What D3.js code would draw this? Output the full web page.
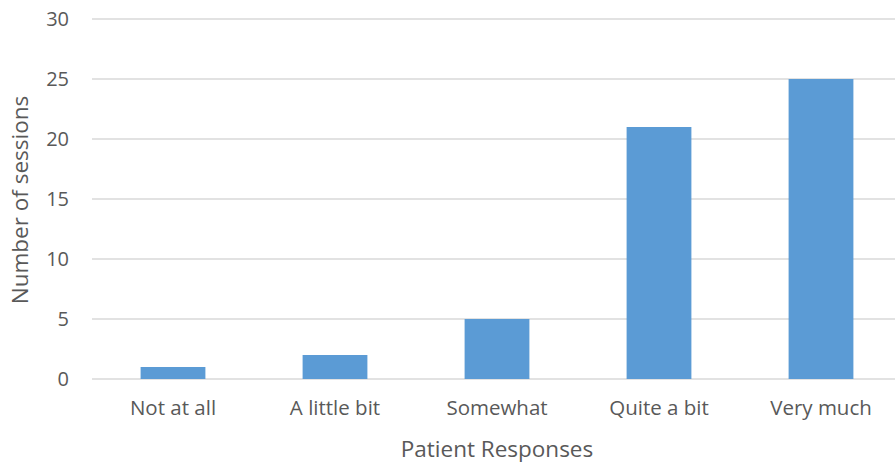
<!DOCTYPE html>
<html><head><meta charset="utf-8">
<script src="https://cdn.jsdelivr.net/npm/d3@7"></script>
<style>body{margin:0;background:#fff;} svg{display:block;font-family:"Open Sans",sans-serif;}</style>
</head><body><svg id="c" width="895" height="466"></svg>
<script>
const categories = ["Not at all","A little bit","Somewhat","Quite a bit","Very much"];
const values = [1,2,5,21,25];
const yTicks = [0,5,10,15,20,25,30];
const xTitle = "Patient Responses";
const yTitle = "Number of sessions";

const svg = d3.select("#c");
const x = d3.scaleBand().domain(categories).range([92,902]).paddingInner(0.6).paddingOuter(0.3);
const y = d3.scaleLinear().domain([0,30]).range([379,19]);
const txt = "#595959";

svg.append("g").selectAll("line").data(yTicks).join("line")
  .attr("x1",92).attr("x2",895).attr("y1",d=>y(d)).attr("y2",d=>y(d))
  .attr("stroke","#d9d9d9").attr("stroke-width",1.3);

const yAxis = svg.append("g").attr("transform","translate(92,0)")
  .call(d3.axisLeft(y).tickValues(yTicks).tickSize(0).tickPadding(23));
yAxis.select(".domain").remove();
yAxis.selectAll("text").attr("fill",txt).style("font-size","20px").style("font-family","Open Sans");

svg.append("g").selectAll("rect").data(values).join("rect")
  .attr("x",(d,i)=>x(categories[i])).attr("width",x.bandwidth())
  .attr("y",d=>y(d)).attr("height",d=>y(0)-y(d)).attr("fill","#5b9bd5");

const xAxis = svg.append("g").attr("transform","translate(0,379)")
  .call(d3.axisBottom(x).tickSize(0).tickPadding(21));
xAxis.select(".domain").remove();
xAxis.selectAll("text").attr("fill",txt).style("font-size","20.5px").style("font-family","Open Sans");

svg.append("text").attr("x",497).attr("y",457).attr("text-anchor","middle")
  .attr("fill",txt).style("font-size","22.5px").text(xTitle);
svg.append("text").attr("transform","translate(28,200) rotate(-90)").attr("text-anchor","middle")
  .attr("fill",txt).style("font-size","22.5px").text(yTitle);
</script></body></html>
